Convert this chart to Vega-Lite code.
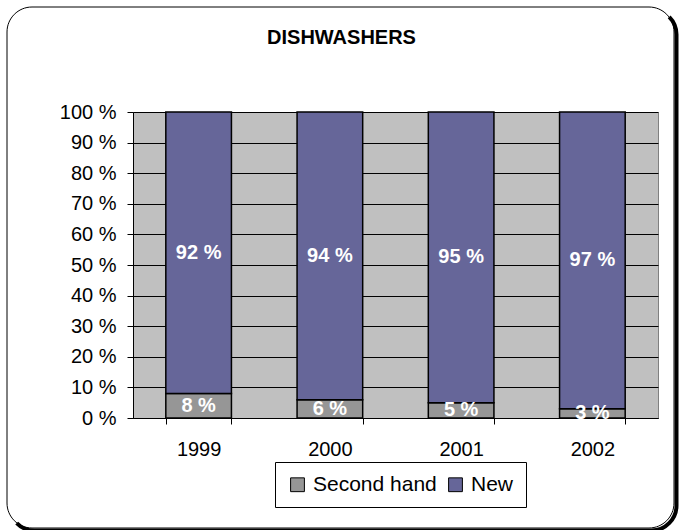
{
  "$schema": "https://vega.github.io/schema/vega-lite/v6.json",
  "width": 525,
  "height": 306,
  "autosize": {"type": "none"},
  "padding": {"left": 133, "top": 112, "right": 22, "bottom": 112},
  "background": "white",
  "config": {
    "font": "Liberation Sans",
    "view": {"fill": "#C0C0C0", "stroke": "#808080", "strokeWidth": 1}
  },
  "title": {
    "text": "DISHWASHERS",
    "fontSize": 20,
    "fontWeight": "bold",
    "color": "black",
    "anchor": "middle",
    "frame": "group",
    "dx": -54,
    "baseline": "alphabetic",
    "offset": -57
  },
  "data": {
    "values": [
      {"year": "1999", "type": "Second hand", "pct": 8},
      {"year": "1999", "type": "New", "pct": 92},
      {"year": "2000", "type": "Second hand", "pct": 6},
      {"year": "2000", "type": "New", "pct": 94},
      {"year": "2001", "type": "Second hand", "pct": 5},
      {"year": "2001", "type": "New", "pct": 95},
      {"year": "2002", "type": "Second hand", "pct": 3},
      {"year": "2002", "type": "New", "pct": 97}
    ]
  },
  "layer": [
    {
      "data": {"values": [{}]},
      "mark": {
        "type": "rect",
        "fill": "transparent",
        "stroke": "black",
        "strokeWidth": 4,
        "cornerRadius": 25,
        "strokeDash": [1166.6, 1166.5],
        "strokeDashOffset": 1696.5
      },
      "encoding": {
        "x": {"value": -123.5},
        "y": {"value": -102.5},
        "x2": {"value": 543.5},
        "y2": {"value": 418.5}
      }
    },
    {
      "data": {"values": [{}]},
      "mark": {
        "type": "rect",
        "fill": "transparent",
        "stroke": "black",
        "strokeWidth": 1,
        "cornerRadius": 25
      },
      "encoding": {
        "x": {"value": -126},
        "y": {"value": -105},
        "x2": {"value": 541},
        "y2": {"value": 416}
      }
    },
    {
      "mark": {"type": "bar", "stroke": "black", "strokeWidth": 1.5},
      "encoding": {
        "x": {
          "field": "year",
          "type": "nominal",
          "scale": {"paddingInner": 0.5, "paddingOuter": 0.25},
          "axis": {
            "title": null,
            "labelAngle": 0,
            "labelFontSize": 20,
            "labelColor": "black",
            "labelPadding": 15,
            "tickBand": "extent",
            "tickSize": 6,
            "tickColor": "black",
            "domainColor": "black",
            "grid": false
          }
        },
        "y": {
          "field": "pct",
          "type": "quantitative",
          "stack": "zero",
          "scale": {"domain": [0, 100], "nice": false},
          "axis": {
            "title": null,
            "values": [0, 10, 20, 30, 40, 50, 60, 70, 80, 90, 100],
            "tickCount": 20,
            "labelExpr": "datum.value + ' %'",
            "labelOverlap": false,
            "labelFontSize": 20,
            "labelColor": "black",
            "labelPadding": 11,
            "tickSize": 6,
            "tickColor": "black",
            "domainColor": "black",
            "grid": true,
            "gridColor": "black",
            "gridOpacity": 1
          }
        },
        "color": {
          "field": "type",
          "type": "nominal",
          "scale": {"domain": ["Second hand", "New"], "range": ["#969696", "#666699"]},
          "legend": {
            "title": null,
            "orient": "none",
            "legendX": 142,
            "legendY": 350,
            "direction": "horizontal",
            "labelFontSize": 21,
            "labelColor": "black",
            "labelLimit": 300,
            "labelOffset": 5,
            "symbolType": "square",
            "symbolSize": 190,
            "symbolStrokeColor": "black",
            "symbolStrokeWidth": 1,
            "symbolOpacity": 1,
            "strokeColor": "black",
            "fillColor": "white",
            "padding": 12,
            "columnPadding": 8
          }
        },
        "order": {"field": "type", "sort": "descending"}
      }
    },
    {
      "mark": {
        "type": "text",
        "color": "white",
        "fontWeight": "bold",
        "fontSize": 20,
        "baseline": "middle",
        "text": {"expr": "datum.pct + ' %'"}
      },
      "encoding": {
        "x": {"field": "year", "type": "nominal"},
        "y": {
          "field": "pct",
          "type": "quantitative",
          "stack": "zero",
          "bandPosition": 0.5,
          "axis": {
            "title": null,
            "values": [0, 10, 20, 30, 40, 50, 60, 70, 80, 90, 100],
            "tickCount": 20,
            "labelExpr": "datum.value + ' %'",
            "labelOverlap": false,
            "labelFontSize": 20,
            "labelColor": "black",
            "labelPadding": 11,
            "tickSize": 6,
            "tickColor": "black",
            "domainColor": "black",
            "grid": true,
            "gridColor": "black",
            "gridOpacity": 1
          }
        },
        "detail": {"field": "type"},
        "order": {"field": "type", "sort": "descending"}
      }
    }
  ]
}
